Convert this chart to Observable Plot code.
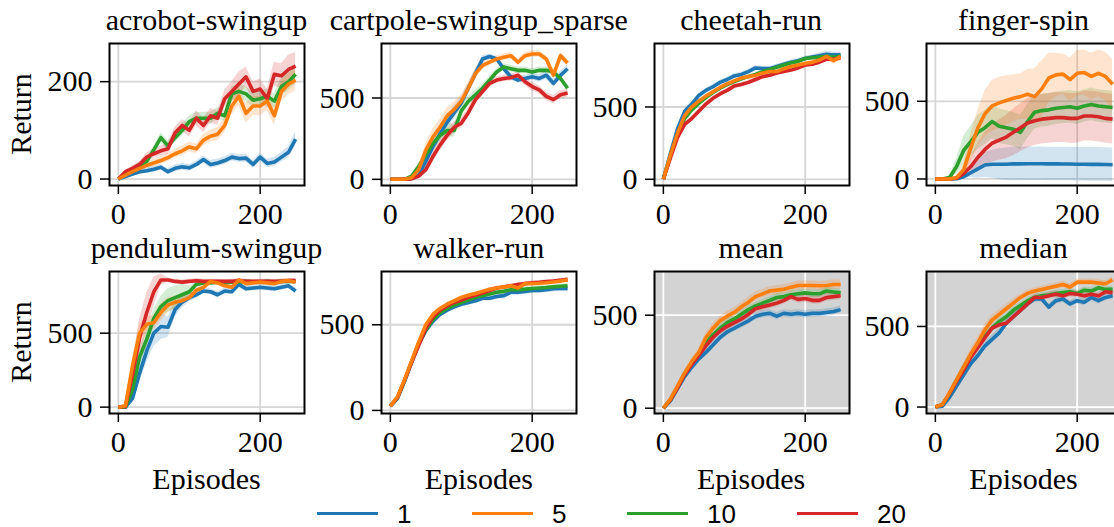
<!DOCTYPE html>
<html><head><meta charset="utf-8">
<script src="https://cdn.jsdelivr.net/npm/d3@7"></script>
<script src="https://cdn.jsdelivr.net/npm/@observablehq/plot@0.6"></script>
<style>
html,body{margin:0;padding:0;background:#fff;overflow:hidden;}
#fig{position:relative;width:1114px;height:527px;overflow:hidden;background:#fff;}
#fig svg{position:absolute;overflow:visible;}
.t{position:absolute;font-family:"Liberation Serif",serif;font-size:30px;color:#000;white-space:nowrap;line-height:30px;}
.lg{position:absolute;font-family:"Liberation Sans",sans-serif;font-size:26px;color:#000;white-space:nowrap;line-height:19px;height:19px;}
.lh{position:absolute;height:3.5px;}
</style></head><body><div id="fig"></div><script>
const episodes = [0,10,20,30,40,50,60,70,80,90,100,110,120,130,140,150,160,170,180,190,200,210,220,230,240,250];
const seriesNames = ["1","5","10","20"];
const seriesColors = ["#1f77b4","#ff7f0e","#2ca02c","#d62728"];
const drawOrder = ["1","10","20","5"];

// ---- acrobot-swingup ----
const acrobotMean = {
  "1":  [0,5,10,15,17,20,24,15,22,25,23,30,40,30,33,38,45,42,43,30,45,32,35,45,55,82],
  "5":  [0,8,15,22,28,33,38,44,52,58,66,62,80,88,92,110,150,170,135,150,150,160,130,180,195,203],
  "10": [0,10,20,28,36,60,85,68,85,100,118,125,125,125,135,130,175,180,175,162,165,170,160,190,200,215],
  "20": [0,15,22,30,45,52,58,62,95,110,100,125,110,130,125,165,180,195,210,180,185,165,215,212,225,232]
};
const acrobotBand = {
  "1":  [0,3,5,5,6,6,6,6,7,7,7,7,8,8,8,8,8,8,8,8,8,9,9,10,12,15],
  "5":  [0,3,5,6,7,8,8,8,9,10,10,10,12,12,14,15,18,20,20,20,20,20,20,22,22,22],
  "10": [0,3,5,6,7,8,10,10,10,12,12,12,12,12,12,12,15,15,15,15,15,15,15,18,18,20],
  "20": [0,3,5,6,8,10,10,12,12,12,14,15,15,15,15,18,20,25,20,20,20,20,25,25,30,28]
};
// ---- cartpole-swingup_sparse ----
const cartpoleMean = {
  "1":  [0,0,0,5,25,110,200,280,350,410,470,560,650,740,755,740,680,630,610,620,630,620,640,590,640,680],
  "5":  [0,0,0,10,60,180,260,320,390,430,480,560,650,700,720,740,750,760,720,760,770,770,740,640,760,715],
  "10": [0,0,0,20,80,150,220,270,300,300,420,480,520,560,610,660,690,680,670,670,660,670,670,660,620,560],
  "20": [0,0,0,3,20,60,140,210,270,320,345,410,490,540,590,610,620,625,640,600,570,550,510,490,520,530]
};
const cartpoleBand = {
  "1":  [0,0,0,3,10,20,30,40,40,40,35,30,25,20,15,15,20,20,20,20,20,25,25,25,25,25],
  "5":  [0,0,0,5,20,40,50,50,50,45,40,35,30,25,20,20,20,20,20,20,20,20,20,25,25,25],
  "10": [0,0,0,5,15,30,40,40,40,40,35,30,30,25,25,20,20,20,20,20,20,20,20,20,20,20],
  "20": [0,0,0,3,10,20,30,35,35,35,30,30,30,25,25,20,20,20,20,25,25,25,25,25,25,25]
};
// ---- cheetah-run ----
const cheetahMean = {
  "1":  [0,180,350,470,520,580,615,640,670,690,715,725,745,770,765,765,780,795,810,820,835,845,855,865,860,860],
  "5":  [0,170,320,440,500,540,575,605,635,660,680,700,710,720,735,745,745,765,780,790,800,810,825,850,820,850],
  "10": [0,160,310,420,480,525,565,600,630,655,675,695,710,725,745,760,775,790,805,815,835,840,845,850,845,850],
  "20": [0,150,290,380,420,470,520,560,590,615,645,655,670,690,710,720,735,745,755,770,790,795,810,830,830,840]
};
const cheetahBand = {
  "1":  [0,10,15,15,15,15,15,15,15,15,15,15,15,15,15,15,15,15,15,15,15,15,18,20,20,20],
  "5":  [0,10,15,15,15,12,12,12,12,12,12,12,12,12,12,12,12,12,15,15,15,15,15,20,25,25],
  "10": [0,10,12,12,12,12,12,12,12,12,12,12,12,12,12,12,12,12,12,12,12,12,12,15,15,15],
  "20": [0,10,15,15,15,15,15,15,15,15,15,15,15,15,15,15,15,15,15,15,15,15,15,15,20,20]
};
// ---- finger-spin ----
const fingerMean = {
  "1":  [0,0,0,2,15,40,65,90,95,95,95,97,97,98,98,98,97,97,96,96,95,95,94,94,93,92],
  "5":  [0,0,0,10,60,200,330,420,470,490,505,520,530,545,530,580,650,670,675,640,680,685,660,680,660,610],
  "10": [0,0,10,80,185,240,300,330,370,340,330,320,300,370,430,440,445,455,460,465,455,470,480,470,465,460],
  "20": [0,0,0,5,35,80,140,190,230,250,270,300,330,360,375,385,390,395,395,390,390,405,405,400,390,385]
};
const fingerBand = {
  "1":  [0,0,0,2,10,30,60,80,90,100,105,108,108,108,108,108,108,108,108,108,108,108,108,108,108,108],
  "5":  [0,0,0,10,40,90,115,150,165,165,160,150,147,160,180,180,160,140,130,140,147,145,150,150,156,160],
  "10": [0,0,10,50,90,100,110,110,110,110,110,110,110,110,110,105,105,105,105,105,105,105,105,105,105,105],
  "20": [0,0,0,5,30,60,90,110,120,130,140,150,155,160,160,160,160,160,160,160,160,160,160,160,160,160]
};
// ---- pendulum-swingup ----
const pendulumMean = {
  "1":  [0,0,60,230,380,500,545,540,660,710,740,760,785,780,760,785,780,830,800,805,810,805,800,810,820,785],
  "5":  [0,10,280,500,560,570,640,690,710,720,740,790,810,850,840,820,810,860,835,840,845,840,835,850,855,845],
  "10": [0,0,120,340,460,600,680,720,740,760,780,830,840,840,845,840,845,845,850,845,845,850,845,850,850,850],
  "20": [0,5,220,470,640,780,860,860,850,845,850,855,850,850,850,850,850,855,850,850,850,850,850,850,855,855]
};
const pendulumBand = {
  "1":  [0,0,30,60,80,90,90,70,50,40,30,25,20,20,20,20,20,20,20,20,20,20,20,20,20,20],
  "5":  [0,10,60,60,50,50,60,50,40,30,20,15,15,15,15,15,15,15,15,15,15,15,15,15,15,15],
  "10": [0,0,40,60,60,60,70,80,80,70,40,20,15,15,15,15,15,15,15,15,15,15,15,15,15,15],
  "20": [0,5,80,130,130,100,40,15,15,15,15,15,15,15,15,15,15,15,15,15,15,15,15,15,15,15]
};
// ---- walker-run ----
const walkerMean = {
  "1":  [25,70,170,280,385,465,520,560,585,605,620,630,640,655,655,665,670,690,690,695,700,700,705,710,712,712],
  "5":  [25,80,180,290,400,500,560,595,620,640,660,672,683,695,707,715,720,728,715,740,740,742,745,750,755,762],
  "10": [25,75,175,285,390,470,530,570,595,615,630,645,660,670,680,690,695,705,705,708,712,715,718,722,725,728],
  "20": [25,75,175,280,380,480,545,585,610,630,645,660,672,685,700,715,720,728,735,740,745,748,752,755,760,765]
};
const walkerBand = {
  "1":  [5,8,10,12,15,15,15,15,18,18,18,18,18,18,18,18,18,18,18,18,18,18,18,18,18,18],
  "5":  [5,8,10,10,10,10,10,10,10,10,10,10,10,10,10,10,10,10,10,10,10,10,10,10,12,12],
  "10": [5,8,10,10,10,10,10,10,12,12,12,12,12,12,12,12,12,12,12,12,12,12,12,12,12,12],
  "20": [5,8,10,10,10,10,10,10,10,10,10,10,10,10,10,10,10,10,10,10,10,10,10,10,10,10]
};
// ---- mean ----
const meanMean = {
  "1":  [0,40,105,170,220,265,300,340,380,410,430,450,470,495,505,510,495,510,505,510,505,510,510,515,520,530],
  "5":  [0,50,120,190,250,300,380,430,470,495,515,545,570,600,615,630,635,640,650,660,660,660,658,660,665,665],
  "10": [0,45,115,185,240,290,350,395,430,460,480,505,530,550,565,580,595,600,610,615,620,615,615,630,625,620],
  "20": [0,45,110,180,235,285,335,380,415,440,460,480,505,535,545,555,565,580,600,585,590,580,580,595,600,605]
};
const meanBand = {
  "1":  [0,8,12,15,18,20,20,20,20,20,20,20,20,20,20,20,20,20,20,20,20,20,20,20,20,20],
  "5":  [0,8,12,15,20,22,25,25,25,25,25,25,25,25,25,25,25,25,25,25,25,25,25,25,25,25],
  "10": [0,8,12,15,18,20,20,20,20,20,20,20,20,20,20,20,20,20,20,20,20,20,20,20,20,20],
  "20": [0,8,12,15,18,20,20,20,20,20,20,20,20,20,20,20,20,20,20,20,20,20,20,20,20,20]
};
// ---- median ----
const medianMean = {
  "1":  [0,5,60,130,200,270,320,380,420,460,520,560,600,640,670,670,620,660,670,640,660,650,680,660,680,690],
  "5":  [0,15,90,170,250,330,400,480,540,575,610,645,680,705,720,730,740,750,760,745,775,775,775,770,765,790],
  "10": [0,15,85,165,245,320,380,440,490,530,560,600,630,660,680,690,695,705,710,715,705,725,720,740,730,730],
  "20": [0,15,85,160,230,310,370,430,490,510,520,560,600,640,680,680,690,700,690,705,700,690,700,690,715,710]
};
const medianBand = {
  "1":  [0,5,15,20,25,25,25,25,25,25,25,25,20,20,20,20,20,20,20,20,20,20,20,20,20,20],
  "5":  [0,5,15,20,25,30,35,35,30,30,25,25,20,20,20,20,20,20,20,20,20,20,20,20,20,20],
  "10": [0,5,15,20,20,20,20,20,20,20,20,20,20,20,20,20,20,20,20,20,20,20,20,20,20,20],
  "20": [0,5,15,20,20,20,20,20,20,20,20,20,20,20,20,20,20,20,20,20,20,20,20,20,20,20]
};

const panelTitles = ["acrobot-swingup","cartpole-swingup_sparse","cheetah-run","finger-spin",
                     "pendulum-swingup","walker-run","mean","median"];
const panelMeans = [acrobotMean, cartpoleMean, cheetahMean, fingerMean, pendulumMean, walkerMean, meanMean, medianMean];
const panelBands = [acrobotBand, cartpoleBand, cheetahBand, fingerBand, pendulumBand, walkerBand, meanBand, medianBand];
const yDomains = [[-13.3,278.4],[-38,835],[-43,939],[-42,872],[-43,917],[-18,811],[-28.5,735],[-40,841]];
const yTicks = [[0,200],[0,500],[0,500],[0,500],[0,500],[0,500],[0,500],[0,500]];
const xTicks = [0,200];
const xDomain = [-12.5,262.5];
const shaded = [false,false,false,false,false,false,true,true];

// layout (pixels)
const colLeft = [109, 381.3, 653.6, 926];
const rowTop = [43.3, 271];
const FW = 195, FH = 142;
const mL = 75, mR = 8, mT = 4, mB = 45;
const FS = 30, BASE = 0.8375 * FS;

const fig = document.getElementById("fig");

function addText(cls, txt, x, y, anchor, rot) {
  const d = document.createElement("div");
  d.className = cls;
  d.textContent = txt;
  d.style.left = x + "px";
  d.style.top = y + "px";
  d.style.transform = (anchor || "translate(-50%,-50%)") + (rot ? " rotate(" + rot + "deg)" : "");
  fig.appendChild(d);
  return d;
}

for (let p = 0; p < 8; p++) {
  const row = Math.floor(p / 4), col = p % 4;
  const rows = [];
  for (const s of seriesNames) {
    const m = panelMeans[p][s], b = panelBands[p][s];
    episodes.forEach((e, i) => rows.push({x: e, y: m[i], lo: m[i] - b[i], hi: m[i] + b[i], s}));
  }
  const gridColor = shaded[p] ? "#ffffff" : "#d6d6d6";
  const marks = [];
  if (shaded[p]) marks.push(Plot.frame({fill: "#d3d3d3", stroke: null}));
  marks.push(Plot.gridX({ticks: xTicks, stroke: gridColor, strokeOpacity: 1, strokeWidth: 1.8}));
  marks.push(Plot.gridY({ticks: yTicks[p], stroke: gridColor, strokeOpacity: 1, strokeWidth: 1.8}));
  for (const s of drawOrder) {
    const c = seriesColors[seriesNames.indexOf(s)];
    marks.push(Plot.areaY(rows.filter(r => r.s === s), {x: "x", y1: "lo", y2: "hi", fill: c, fillOpacity: 0.2, clip: true}));
  }
  for (const s of drawOrder) {
    const c = seriesColors[seriesNames.indexOf(s)];
    marks.push(Plot.lineY(rows.filter(r => r.s === s), {x: "x", y: "y", stroke: c, strokeWidth: 3.6, strokeLinejoin: "round", strokeLinecap: "butt", clip: true}));
  }
  marks.push(Plot.frame({stroke: "#000", strokeWidth: 2}));
  marks.push(Plot.axisX({ticks: xTicks, tickSize: 9, tickPadding: 8, label: null, strokeWidth: 1.5}));
  marks.push(Plot.axisY({ticks: yTicks[p], tickSize: 9, tickPadding: 8, label: null, strokeWidth: 1.5}));

  const chart = Plot.plot({
    width: mL + FW + mR,
    height: mT + FH + mB,
    marginLeft: mL, marginRight: mR, marginTop: mT, marginBottom: mB,
    x: {domain: xDomain},
    y: {domain: yDomains[p]},
    style: {fontFamily: "'Liberation Serif', serif", fontSize: FS + "px", color: "#000", background: "transparent", overflow: "visible"},
    marks
  });
  chart.style.left = (colLeft[col] - mL) + "px";
  chart.style.top = (rowTop[row] - mT) + "px";
  fig.appendChild(chart);

  const cx = colLeft[col] + FW / 2;
  addText("t", panelTitles[p], cx, rowTop[row] - 13 - BASE, "translate(-50%,0)");
  if (col === 0) addText("t", "Return", 21, rowTop[row] + FH / 2, "translate(-50%,-50%)", -90);
  if (row === 1) addText("t", "Episodes", cx, 489 - BASE, "translate(-50%,0)");
}

// legend
const legendX = [317, 472, 627, 797];
seriesNames.forEach((s, i) => {
  const h = document.createElement("div");
  h.className = "lh";
  h.style.left = legendX[i] + "px";
  h.style.top = "511.5px";
  h.style.width = "61px";
  h.style.background = seriesColors[i];
  fig.appendChild(h);
  addText("lg", s, legendX[i] + 80, 514, "translate(0,-50%)");
});
</script></body></html>
